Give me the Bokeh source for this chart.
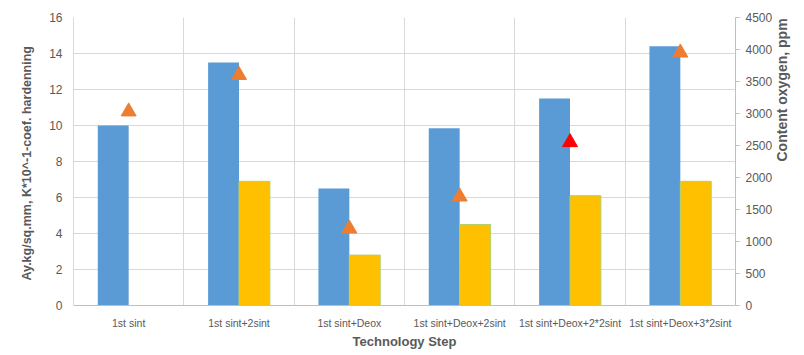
import math
from bokeh.plotting import figure
from bokeh.models import Range1d, LinearAxis, FixedTicker, ColumnDataSource
from bokeh.transform import dodge
from bokeh.embed import file_html
from bokeh.resources import INLINE

categories = ["1st sint", "1st sint+2sint", "1st sint+Deox", "1st sint+Deox+2sint",
              "1st sint+Deox+2*2sint", "1st sint+Deox+3*2sint"]
strength = [10.0, 13.5, 6.5, 9.85, 11.5, 14.4]          # Ay, kg/sq.mm (blue)
hardening = [0.0, 6.9, 2.8, 4.5, 6.1, 6.9]              # K*10^-1 (yellow)
oxygen = [3030, 3600, 1200, 1700, 2550, 3950]           # ppm (triangles, right axis)
marker_colors = ["#ED7D31", "#ED7D31", "#ED7D31", "#ED7D31", "#FF0000", "#ED7D31"]
left_ticks = [0, 2, 4, 6, 8, 10, 12, 14, 16]
right_ticks = [0, 500, 1000, 1500, 2000, 2500, 3000, 3500, 4000, 4500]

FONT = "Liberation Sans"
GRAY = "#595959"

xs = [i + 0.5 for i in range(len(categories))]
src = ColumnDataSource(dict(x=xs, strength=strength, oxygen=oxygen, colors=marker_colors))
yx = [x for x, h in zip(xs, hardening) if h > 0]
yh = [h for h in hardening if h > 0]
ysrc = ColumnDataSource(dict(x=yx, hardening=yh))

p = figure(width=804, height=355, x_range=Range1d(0, len(categories)), y_range=Range1d(0, 16),
           output_backend="svg", toolbar_location=None,
           min_border_left=73, min_border_right=69, min_border_top=17, min_border_bottom=50)
p.extra_y_ranges = {"ox": Range1d(0, 4500)}
p.outline_line_color = None
p.background_fill_color = "white"
p.border_fill_color = "white"

p.vbar(x=dodge("x", -0.14, range=p.x_range), top="strength", width=0.28, source=src,
       fill_color="#5B9BD5", line_color=None)
p.vbar(x=dodge("x", 0.14, range=p.x_range), top="hardening", width=0.28, source=ysrc,
       fill_color="#FFC000", line_color="#B4CF6A", line_width=1)
p.scatter(x="x", y="oxygen", marker="triangle", size=15, source=src,
          fill_color="colors", line_color="colors", y_range_name="ox")

# x axis
p.xaxis.ticker = FixedTicker(ticks=xs)
p.xaxis.major_label_overrides = {x: c for x, c in zip(xs, categories)}
p.xaxis.major_tick_line_color = None
p.xaxis.major_tick_in = 0
p.xaxis.major_tick_out = 0
p.xaxis.minor_tick_line_color = None
p.xaxis.axis_line_color = "#BFBFBF"
p.xaxis.major_label_text_font = FONT
p.xaxis.major_label_text_font_size = "10.5px"
p.xaxis.major_label_text_color = GRAY
p.xaxis.major_label_standoff = 11
p.xaxis.axis_label = "Technology Step"
p.xaxis.axis_label_text_font = FONT
p.xaxis.axis_label_text_font_size = "13px"
p.xaxis.axis_label_text_font_style = "bold"
p.xaxis.axis_label_text_color = GRAY
p.xaxis.axis_label_standoff = 2

# left axis
p.yaxis.ticker = FixedTicker(ticks=left_ticks)
p.yaxis.major_tick_line_color = None
p.yaxis.major_tick_in = 0
p.yaxis.major_tick_out = 0
p.yaxis.minor_tick_line_color = None
p.yaxis.axis_line_color = "#D9D9D9"
p.yaxis.major_label_text_font = FONT
p.yaxis.major_label_text_font_size = "12px"
p.yaxis.major_label_text_color = GRAY
p.yaxis.major_label_standoff = 11
p.yaxis.axis_label = "Ay.kg/sq.mm,  K*10^-1-coef. hardenning"
p.yaxis.axis_label_text_font = FONT
p.yaxis.axis_label_text_font_size = "12.5px"
p.yaxis.axis_label_text_font_style = "bold"
p.yaxis.axis_label_text_color = GRAY
p.yaxis.axis_label_standoff = 12

# right axis (ticks and numbers)
ra = LinearAxis(y_range_name="ox", ticker=FixedTicker(ticks=right_ticks))
ra.axis_line_color = "#BFBFBF"
ra.major_tick_line_color = "#BFBFBF"
ra.major_tick_in = 0
ra.major_tick_out = 4
ra.minor_tick_line_color = None
ra.major_label_text_font = FONT
ra.major_label_text_font_size = "12px"
ra.major_label_text_color = GRAY
ra.major_label_standoff = 6
p.add_layout(ra, "right")

# right axis title only (reads bottom-to-top like the reference)
rt = LinearAxis(y_range_name="ox", ticker=FixedTicker(ticks=[]), bounds=(0, 2720))
rt.axis_line_color = None
rt.major_tick_line_color = None
rt.major_tick_in = 0
rt.major_tick_out = 0
rt.minor_tick_line_color = None
rt.major_label_text_font_size = "0px"
rt.major_label_standoff = 0
rt.axis_label = "Content oxygen, ppm"
rt.axis_label_text_font = FONT
rt.axis_label_text_font_size = "14px"
rt.axis_label_text_font_style = "bold"
rt.axis_label_text_color = GRAY
rt.axis_label_standoff = 6
rt.axis_label_orientation = math.pi / 2
p.add_layout(rt, "right")

# grids
p.ygrid.ticker = FixedTicker(ticks=left_ticks)
p.ygrid.grid_line_color = "#D9D9D9"
p.xgrid.ticker = FixedTicker(ticks=[1, 2, 3, 4, 5])
p.xgrid.grid_line_color = "#D9D9D9"

open("out.html", "w").write(file_html(p, INLINE))
